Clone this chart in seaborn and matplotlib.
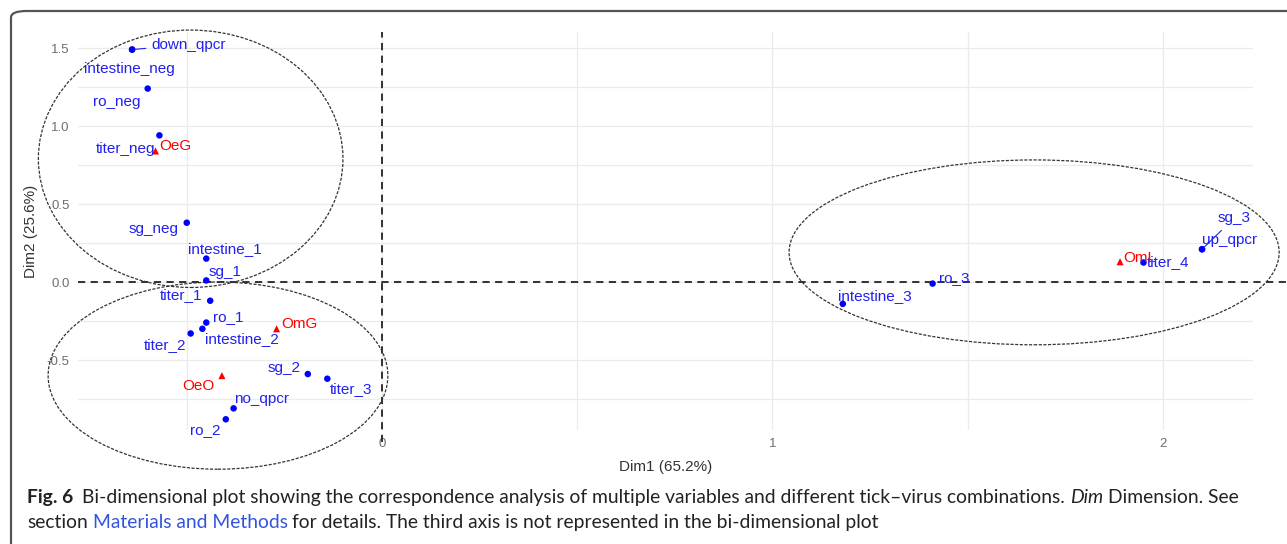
"""Correspondence analysis biplot (Dim1 vs Dim2) with tick-virus groups."""

import matplotlib.pyplot as plt
import numpy as np
import pandas as pd
import seaborn as sns
from matplotlib.patches import Ellipse, FancyBboxPatch
from matplotlib.transforms import blended_transform_factory

W, H = 1287, 544

# variable categories (blue dots)
var_names = [
    "down_qpcr", "intestine_neg", "ro_neg", "titer_neg", "sg_neg",
    "intestine_1", "sg_1", "titer_1", "ro_1", "intestine_2", "titer_2",
    "sg_2", "titer_3", "no_qpcr", "ro_2",
    "ro_3", "intestine_3", "titer_4", "up_qpcr", "sg_3",
]
var_dim1 = [-0.64, -0.64, -0.60, -0.57, -0.50,
            -0.45, -0.45, -0.44, -0.45, -0.46, -0.49,
            -0.19, -0.14, -0.38, -0.40,
            1.41, 1.18, 1.95, 2.10, 2.10]
var_dim2 = [1.49, 1.49, 1.24, 0.94, 0.38,
            0.15, 0.01, -0.12, -0.26, -0.30, -0.33,
            -0.59, -0.62, -0.81, -0.88,
            -0.01, -0.14, 0.125, 0.21, 0.21]

# tick-virus combinations (red triangles)
grp_names = ["OeG", "OmG", "OeO", "OmL"]
grp_dim1 = [-0.58, -0.27, -0.41, 1.89]
grp_dim2 = [0.84, -0.30, -0.60, 0.13]

# cluster ellipses: centre dim1, centre dim2, width, height
ell_dim1 = [-0.49, -0.42, 1.67]
ell_dim2 = [0.79, -0.60, 0.19]
ell_width = [0.78, 0.87, 1.255]
ell_height = [1.65, 1.20, 1.185]

x_ticks = [0, 1, 2]
y_ticks = [-0.5, 0.0, 0.5, 1.0, 1.5]
x_label = "Dim1 (65.2%)"
y_label = "Dim2 (25.6%)"

# label offsets in pixels (dx, dy; dy downwards) and whether a segment is drawn
label_offsets = {
    "down_qpcr": (57, -5, True), "intestine_neg": (-3, 19, False),
    "ro_neg": (-31, 13, False), "titer_neg": (-34, 14, False),
    "sg_neg": (-33, 6, False), "intestine_1": (19, -10, False),
    "sg_1": (19, -8, False), "titer_1": (-29, -6, False),
    "ro_1": (22, -6, False), "intestine_2": (40, 10, False),
    "titer_2": (-26, 12, False), "sg_2": (-24, -6, False),
    "titer_3": (24, 10, False), "no_qpcr": (28, -9, False),
    "ro_2": (-21, 11, False), "ro_3": (22, -6, False),
    "intestine_3": (32, -8, False), "titer_4": (25, 0, True),
    "up_qpcr": (28, -9, False), "sg_3": (32, -31, True),
    "OeG": (20, -5, False), "OmG": (23, -5, False),
    "OeO": (-24, 10, False), "OmL": (20, -4, False),
}

BLUE = "#0000FF"
LABEL_BLUE = "#2020F0"
RED = "#FF0000"


def add_label(ax, name, x, y, color):
    dx, dy, seg = label_offsets[name]
    px2pt = 72 / 100
    arrow = None
    if seg:
        arrow = dict(arrowstyle="-", color=color, lw=0.8, shrinkA=2, shrinkB=2)
    ax.annotate(name, (x, y), xytext=(dx * px2pt, -dy * px2pt),
                textcoords="offset points", ha="center", va="center",
                color=color, fontsize=11, arrowprops=arrow, zorder=5)


def draw_runs(fig, x_px, y_px, runs):
    """Draw consecutive text runs with different styles on one baseline."""
    renderer = fig.canvas.get_renderer()
    x = x_px
    for text, kw in runs:
        lead = len(text) - len(text.lstrip(" "))
        trail = len(text) - len(text.rstrip(" "))
        probe_a = fig.text(0, 0, "x x", **kw)
        probe_b = fig.text(0, 0, "xx", **kw)
        space = (probe_a.get_window_extent(renderer).width
                 - probe_b.get_window_extent(renderer).width)
        probe_a.remove()
        probe_b.remove()
        x += lead * space
        core = text.strip(" ")
        if core:
            t = fig.text(x / W, 1 - y_px / H, core, ha="left", va="baseline", **kw)
            x += t.get_window_extent(renderer).width
        x += trail * space


def main() -> None:
    sns.set_theme(style="whitegrid")
    plt.rcParams["font.family"] = ["Liberation Sans", "DejaVu Sans"]

    variables = pd.DataFrame({"name": var_names, "dim1": var_dim1, "dim2": var_dim2})
    groups = pd.DataFrame({"name": grp_names, "dim1": grp_dim1, "dim2": grp_dim2})

    fig = plt.figure(figsize=(W / 100, H / 100), dpi=100)
    fig.patch.set_facecolor("white")
    ax = fig.add_axes([78 / W, 1 - 430 / H, (1253 - 78) / W, (430 - 32) / H])
    ax.set_facecolor("white")

    sns.scatterplot(data=variables, x="dim1", y="dim2", color=BLUE, marker="o",
                    s=22, edgecolor="none", ax=ax, zorder=4)
    sns.scatterplot(data=groups, x="dim1", y="dim2", color=RED, marker="^",
                    s=26, edgecolor="none", ax=ax, zorder=4)

    for row in variables.itertuples():
        add_label(ax, row.name, row.dim1, row.dim2, LABEL_BLUE)
    for row in groups.itertuples():
        add_label(ax, row.name, row.dim1, row.dim2, RED)

    ax.set_xlim(-0.7785, 2.2305)
    ax.set_ylim(-0.9487, 1.6026)
    ax.set_xticks(x_ticks)
    ax.set_xticklabels([str(t) for t in x_ticks])
    ax.set_yticks(y_ticks)
    ax.set_yticklabels([f"{t:.1f}" for t in y_ticks])
    ax.set_xticks([-0.5, 0.5, 1.5], minor=True)
    ax.set_yticks([-0.75, -0.25, 0.25, 0.75, 1.25], minor=True)
    ax.grid(which="both", color="#EBEBEB", lw=0.9)
    ax.tick_params(which="major", length=4, width=0.9, color="#555555",
                   labelcolor="#6E6E6E", labelsize=9.5, pad=2)
    ax.tick_params(which="minor", length=0)
    for spine in ax.spines.values():
        spine.set_visible(False)
    ax.set_axisbelow(True)

    ax.set_xlabel(x_label, fontsize=11, color="#333333", labelpad=7)
    ax.set_ylabel(y_label, fontsize=11, color="#333333", labelpad=6)

    # dashed reference lines at the origin
    vtrans = blended_transform_factory(ax.transData, ax.transAxes)
    ax.plot([0, 0], [-0.03, 1], transform=vtrans, color="#222222", lw=1.3,
            ls=(0, (4, 3)), clip_on=False, zorder=2)
    htrans = blended_transform_factory(ax.transAxes, ax.transData)
    ax.plot([0, 1.028], [0, 0], transform=htrans, color="#222222", lw=1.3,
            ls=(0, (4, 3)), clip_on=False, zorder=2)

    # cluster ellipses drawn over the panel
    for cx, cy, w, h in zip(ell_dim1, ell_dim2, ell_width, ell_height):
        ax.add_patch(Ellipse((cx, cy), w, h, fill=False, edgecolor="#333333",
                             lw=0.9, ls=(0, (2.5, 1.2)), clip_on=False, zorder=3))

    # rounded frame around figure and caption
    frame = FancyBboxPatch((11 / W, -20 / H), 1.2, (H - 11 + 20) / H,
                           boxstyle="round,pad=0,rounding_size=0.012",
                           transform=fig.transFigure, fill=False,
                           edgecolor="#555555", lw=1.6, clip_on=False)
    fig.patches.append(frame)

    cap = dict(family=["Lato", "DejaVu Sans"], fontsize=13.9, color="#222222")
    draw_runs(fig, 27, 503, [
        ("Fig. 6  ", {**cap, "weight": "bold"}),
        ("Bi-dimensional plot showing the correspondence analysis of multiple "
         "variables and different tick\u2013virus combinations. ", cap),
        ("Dim", {**cap, "style": "italic"}),
        (" Dimension. See", cap),
    ])
    draw_runs(fig, 27, 528, [
        ("section ", cap),
        ("Materials and Methods", {**cap, "color": "#3355DD"}),
        (" for details. The third axis is not represented in the "
         "bi-dimensional plot", cap),
    ])

    fig.savefig("out.png", dpi=100)
    plt.close(fig)


if __name__ == "__main__":
    main()
